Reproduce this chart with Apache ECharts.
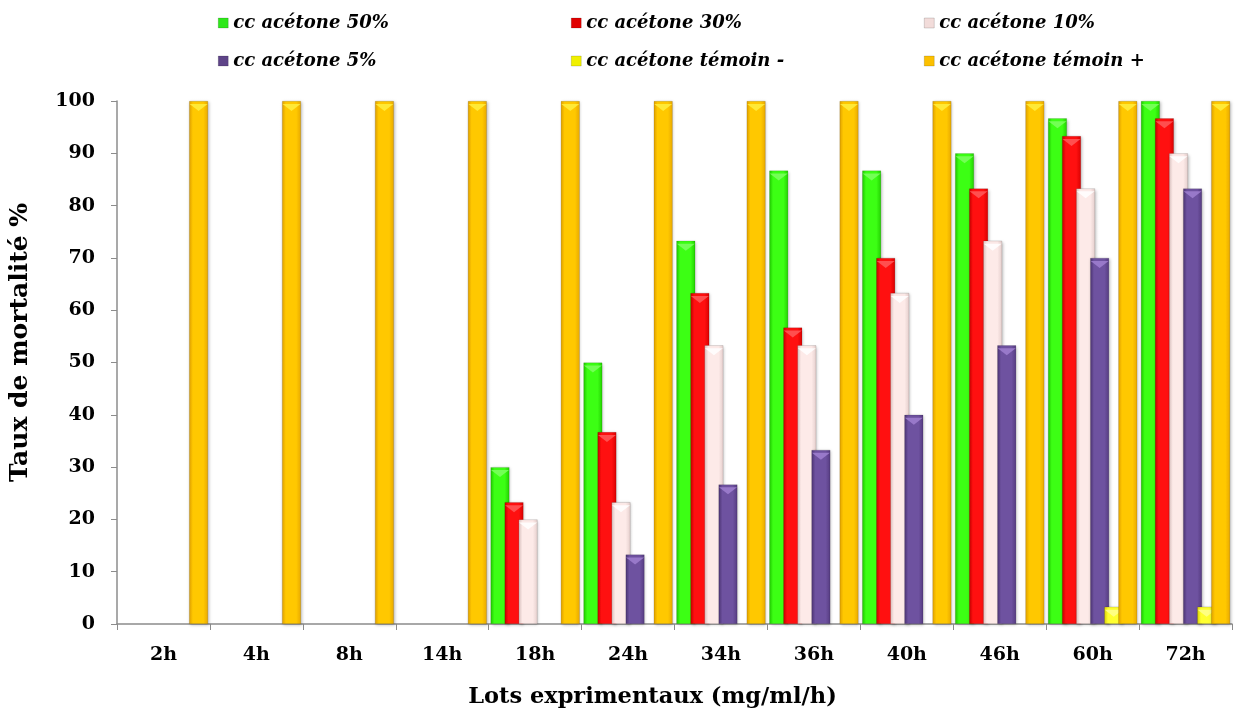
<!DOCTYPE html>
<html>
<head>
<meta charset="utf-8">
<script src="https://cdn.jsdelivr.net/npm/echarts@6/dist/echarts.min.js"></script>
<style>html,body{margin:0;padding:0;background:#fff}#c{width:1235px;height:720px}</style>
</head>
<body>
<div id="c"></div>
<script>
var categories = ['2h','4h','8h','14h','18h','24h','34h','36h','40h','46h','60h','72h'];
var seriesNames = ['cc acétone 50%','cc acétone 30%','cc acétone 10%','cc acétone 5%','cc acétone témoin -','cc acétone témoin +'];
var cc50 = [0,0,0,0,30,50,73.3,86.7,86.7,90,96.7,100];
var cc30 = [0,0,0,0,23.3,36.7,63.3,56.7,70,83.3,93.3,96.7];
var cc10 = [0,0,0,0,20,23.3,53.3,53.3,63.3,73.3,83.3,90];
var cc5 = [0,0,0,0,0,13.3,26.7,33.3,40,53.3,70,83.3];
var temoinMoins = [0,0,0,0,0,0,0,0,0,0,3.3,3.3];
var temoinPlus = [100,100,100,100,100,100,100,100,100,100,100,100];
var yTicks = [0,10,20,30,40,50,60,70,80,90,100];

var dataSets = [cc50, cc30, cc10, cc5, temoinMoins, temoinPlus];
var colors = [
  ['#1fc400','#3cff14','#22d000'],
  ['#c00000','#ff1010','#d80000'],
  ['#d8c0be','#fdeae8','#e4cecc'],
  ['#4a3370','#6e52a0','#553b80'],
  ['#d8d000','#ffff30','#e0da00'],
  ['#e0a000','#ffc800','#e8a800']
];
var bevelColors = ['#7dff60','#ff5a5a','#ffffff','#a080d0','#ffff90','#ffee40'];
var legendColors = ['#2ee81a','#e00000','#f2dcda','#5e4488','#f0f000','#fcc000'];

function grad(c){
  return new echarts.graphic.LinearGradient(0,0,1,0,[
    {offset:0,color:c[0]},{offset:0.2,color:c[1]},{offset:0.75,color:c[1]},{offset:1,color:c[2]}
  ]);
}

var font = 'DejaVu Serif';
var legendPos = [[213,9],[566,9],[919,9],[213,47],[566,47],[919,47]];
var legends = seriesNames.map(function(n,i){
  return {
    data:[{name:n, itemStyle:{color:legendColors[i], borderColor:'rgba(0,0,0,0.3)', borderWidth:0.5}}],
    left:legendPos[i][0], top:legendPos[i][1],
    itemWidth:10, itemHeight:10, icon:'rect',
    selectedMode:false,
    textStyle:{fontFamily:font, fontWeight:'bold', fontStyle:'italic', fontSize:18, color:'#000'}
  };
});

var series = [];
seriesNames.forEach(function(n,i){
  series.push({
    name:n, type:'bar',
    data:dataSets[i].map(function(v){ return v === 0 ? '-' : v; }),
    barWidth:19, barGap:'-26%',
    itemStyle:{color:grad(colors[i]), borderColor:'rgba(0,0,0,0.2)', borderWidth:0.6,
      shadowColor:'rgba(0,0,0,0.25)', shadowBlur:3, shadowOffsetX:1, shadowOffsetY:1},
    z:2+i*0.01,
    animation:false
  });
});
seriesNames.forEach(function(n,i){
  series.push({
    name:n, type:'pictorialBar',
    data:dataSets[i].map(function(v){ return v === 0 ? '-' : v; }),
    barWidth:19, barGap:'-26%',
    symbol:'path://M0,0 L20,0 L10,7 Z',
    symbolSize:[18,7], symbolPosition:'end', symbolOffset:[0,3],
    itemStyle:{color:bevelColors[i], opacity:0.85},
    z:2+i*0.01+0.005,
    animation:false, silent:true
  });
});

var chart = echarts.init(document.getElementById('c'), null, {renderer:'canvas'});
chart.setOption({
  backgroundColor:'#fff',
  animation:false,
  legend:legends,
  grid:{left:117, right:3, top:101, bottom:96, containLabel:false},
  xAxis:{
    type:'category', data:categories,
    axisLine:{lineStyle:{color:'#8c8c8c', width:1.5}},
    axisTick:{show:true, length:6, lineStyle:{color:'#8c8c8c'}},
    axisLabel:{fontFamily:font, fontWeight:'bold', fontSize:19, color:'#000', margin:22},
    name:'Lots exprimentaux (mg/ml/h)', nameLocation:'middle', nameGap:62,
    nameTextStyle:{fontFamily:font, fontWeight:'bold', fontSize:22.5, color:'#000', padding:[0,44,0,0]}
  },
  yAxis:{
    type:'value', min:0, max:100, interval:10,
    axisLine:{show:true, lineStyle:{color:'#8c8c8c', width:1.5}},
    axisTick:{show:true, length:6, lineStyle:{color:'#8c8c8c'}},
    splitLine:{show:false},
    axisLabel:{fontFamily:font, fontWeight:'bold', fontSize:19, color:'#000', margin:22,
      formatter:function(v){ return yTicks.indexOf(v) >= 0 ? String(v) : ''; }},
    name:'Taux de mortalité %', nameLocation:'middle', nameGap:84, nameRotate:90,
    nameTextStyle:{fontFamily:font, fontWeight:'bold', fontSize:25, color:'#000', padding:[0,0,0,40]}
  },
  series:series
});
</script>
</body>
</html>
